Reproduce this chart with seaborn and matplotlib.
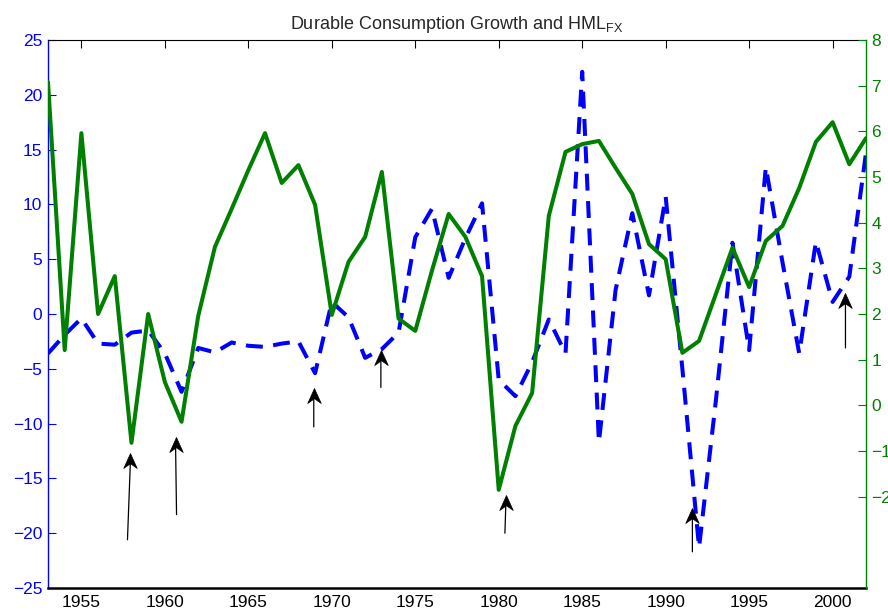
import numpy as np
import pandas as pd
import matplotlib
matplotlib.use("Agg")
import matplotlib.pyplot as plt
import seaborn as sns
from matplotlib.path import Path

sns.set_style("white")
plt.rcParams['font.family'] = ['Liberation Sans', 'DejaVu Sans']
plt.rcParams['mathtext.default'] = 'regular'

# ---- data ----
years = list(range(1953, 2003))
# HML_FX (left axis, dashed blue)
hml_fx = [-3.6, -1.9, -0.4, -2.7, -2.8, -1.7, -1.5, -3.6, -7.1, -3.1,
          -3.5, -2.6, -2.9, -3.0, -2.7, -2.5, -5.4, 1.1, -0.3, -4.0,
          -3.2, -1.7, 7.0, 9.6, 3.3, 6.9, 10.1, -6.0, -7.5, -4.4,
          -0.5, -3.6, 22.1, -11.7, 2.2, 9.2, 1.7, 10.7, -5.0, -21.3,
          -8.0, 6.5, -3.3, 13.4, 4.7, -3.6, 6.6, 1.1, 3.4, 14.7]
# Durable consumption growth (right axis, solid green)
durable = [7.08, 1.21, 5.96, 2.00, 2.83, -0.82, 2.00, 0.51, -0.36, 1.96,
           3.47, 4.30, 5.15, 5.96, 4.87, 5.26, 4.39, 1.98, 3.14, 3.69,
           5.11, 1.90, 1.63, 2.95, 4.19, 3.69, 2.83, -1.85, -0.45, 0.27,
           4.15, 5.55, 5.72, 5.79, 5.20, 4.63, 3.53, 3.20, 1.15, 1.41,
           2.43, 3.45, 2.59, 3.60, 3.93, 4.76, 5.77, 6.20, 5.28, 5.85]

# arrows: x position, tip value, tail value (left-axis units)
arrow_x_tip = [1957.94, 1960.64, 1968.92, 1972.94, 1980.43, 1991.60, 2000.77]
arrow_x_tail = [1957.76, 1960.70, 1968.92, 1972.94, 1980.37, 1991.60, 2000.77]
arrow_tip = [-12.7, -11.2, -6.75, -3.3, -16.5, -17.7, 1.9]
arrow_tail = [-20.6, -18.3, -10.3, -6.7, -20.0, -21.7, -3.1]

title = "Durable Consumption Growth and HML$_{FX}$"
xticks = [1955, 1960, 1965, 1970, 1975, 1980, 1985, 1990, 1995, 2000]
left_ticks = [-25, -20, -15, -10, -5, 0, 5, 10, 15, 20, 25]
right_ticks = [-2, -1, 0, 1, 2, 3, 4, 5, 6, 7, 8]

BLUE = "#0000FF"
GREEN = "#008000"
FS = 12.5

df = pd.DataFrame({"year": years, "hml": hml_fx, "dur": durable})

fig = plt.figure(figsize=(8.88, 6.15), dpi=100)
ax1 = fig.add_axes([48/888, 1-588/615, (866-48)/888, (588-40)/615])

sns.lineplot(data=df, x="year", y="hml", ax=ax1, color=BLUE, lw=2.9,
             linestyle=(0, (4.2, 2.6)), zorder=2)
ax1.set_xlim(1953, 2002)
ax1.set_ylim(-25, 25)
ax1.set_xticks(xticks)
ax1.set_yticks(left_ticks)
ax1.set_xlabel("")
ax1.set_ylabel("")
ax1.tick_params(axis='x', direction='in', length=6, width=0.8, top=True,
                colors='black', labelsize=FS, pad=5)
ax1.tick_params(axis='y', direction='in', length=6, width=0.8, right=True,
                labelright=False, colors=BLUE, labelsize=FS, pad=4)
ax1.spines['left'].set_color(BLUE)
ax1.spines['left'].set_linewidth(1.0)
ax1.spines['bottom'].set_color('black')
ax1.spines['bottom'].set_linewidth(1.8)
ax1.spines['top'].set_color('black')
ax1.spines['top'].set_linewidth(0.8)
ax1.spines['right'].set_visible(False)
ax1.grid(False)

ax2 = ax1.twinx()
sns.lineplot(data=df, x="year", y="dur", ax=ax2, color=GREEN, lw=2.9, zorder=3)
ax2.set_ylim(-4, 8)
ax2.set_yticks(right_ticks)
ax2.set_ylabel("")
ax2.tick_params(axis='y', direction='in', length=6, width=0.8, colors=GREEN,
                labelsize=FS, pad=4)
ax2.spines['right'].set_color(GREEN)
ax2.spines['right'].set_linewidth(1.0)
for s in ['left', 'top', 'bottom']:
    ax2.spines[s].set_visible(False)
ax2.grid(False)

ax1.set_title(title, fontsize=13, pad=8)

# notched arrow head (tip at origin, pointing up)
head = Path([(0, 0), (-0.45, -1.0), (0, -0.68), (0.45, -1.0), (0, 0)],
            [Path.MOVETO, Path.LINETO, Path.LINETO, Path.LINETO, Path.CLOSEPOLY])
for xt, xl, yt, yl in zip(arrow_x_tip, arrow_x_tail, arrow_tip, arrow_tail):
    ax1.annotate("", xy=(xt, yt - 0.6), xytext=(xl, yl), xycoords='data',
                 arrowprops=dict(arrowstyle='-', color='black', lw=0.9,
                                 shrinkA=0, shrinkB=0), zorder=5)
ax1.plot(arrow_x_tip, arrow_tip, ls='none', marker=head, ms=21.6,
         mfc='black', mec='black', mew=0.5, zorder=6)

fig.savefig("out.png", dpi=100)
